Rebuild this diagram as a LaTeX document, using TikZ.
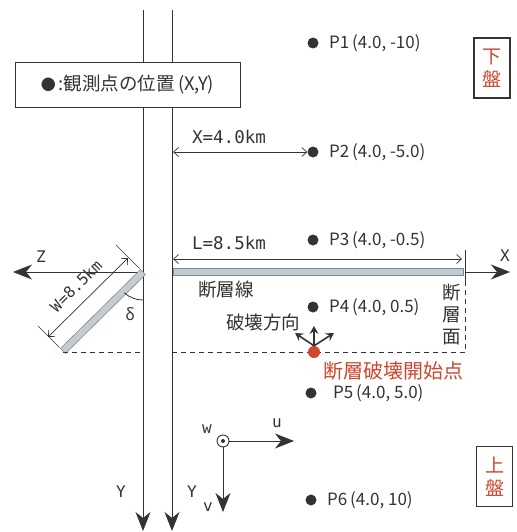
\documentclass[tikz,border=0pt]{standalone}
\usepackage{fontspec}
\setmainfont{Noto Sans CJK JP}
\newfontfamily\mono{DejaVu Sans Mono}
\usetikzlibrary{arrows.meta}
\definecolor{ink}{HTML}{333333}
\definecolor{redtxt}{HTML}{D0452E}
\definecolor{faultfill}{HTML}{C9CBCB}
\definecolor{faultedge}{HTML}{6B8FB0}
\tikzset{
  line/.style={draw=ink, line width=0.9pt},
  axisarrow/.style={line, -{Stealth[length=19pt,width=15pt,inset=6pt]}},
  dimarrow/.style={line, line width=0.7pt, {Straight Barb[length=5pt,width=9pt]}-{Straight Barb[length=5pt,width=9pt]}},
  smallarrow/.style={line, line width=1.6pt, -{Stealth[length=8pt,width=9pt,inset=3pt]}},
  dashline/.style={draw=ink, line width=0.8pt, dash pattern=on 5pt off 4pt},
  faultbar/.style={fill=faultfill, draw=faultedge, line width=0.6pt},
  dot/.style={circle, fill=ink, inner sep=0pt, minimum size=11pt},
  reddot/.style={circle, fill=redtxt, inner sep=0pt, minimum size=12pt},
  plabel/.style={text=ink, font=\fontsize{17}{19}\selectfont, anchor=west, inner sep=0pt},
  jtext/.style={text=ink, font=\fontsize{18.5}{20}\selectfont, inner sep=0pt},
  rtext/.style={text=redtxt, font=\fontsize{20}{21}\selectfont, inner sep=0pt},
  axlabel/.style={text=ink, font=\mono\fontsize{16}{18}\selectfont, inner sep=0pt},
  dimlabel/.style={text=ink, font=\mono\fontsize{17.5}{18}\selectfont, inner sep=0pt},
  sidebox/.style={draw=ink, line width=1.4pt, text=redtxt, align=center,
    font=\fontsize{19}{23}\selectfont, minimum width=36pt, minimum height=60pt, inner sep=0pt},
}
\begin{document}
\begin{tikzpicture}[x=1pt,y=-1pt]
\useasboundingbox (0,0) rectangle (516,532);
% vertical axes (Y)
\coordinate (lt) at (143,10);
\coordinate (lb) at (143,531);
\coordinate (rt) at (172,10);
\coordinate (rb) at (172,531);
\draw[axisarrow] (lt) -- (lb);
\draw[axisarrow] (rt) -- (rb);
\node[axlabel] (ly1) at (121,492) {Y};
\node[axlabel] (ly2) at (192,492) {Y};
% legend
\node[draw=ink, line width=1pt, fill=white, minimum width=225pt, minimum height=45pt,
  text=ink, font=\fontsize{18.5}{20}\selectfont, inner sep=0pt] (legend) at (127.5,85)
  {\raisebox{0.5pt}{\fontsize{15}{15}\selectfont●}\,:観測点の位置\,(X,Y)};
% observation points
\node[dot] (p1) at (313,43) {};
\node[plabel] (p1l) at (329,43) {P1\,(4.0,\ -10)};
\node[dot] (p2) at (313,152) {};
\node[plabel] (p2l) at (329,152) {P2\,(4.0,\ -5.0)};
\node[dot] (p3) at (313,240) {};
\node[plabel] (p3l) at (329,240) {P3\,(4.0,\ -0.5)};
\node[dot] (p4) at (313,307) {};
\node[plabel] (p4l) at (329,307) {P4\,(4.0,\ 0.5)};
\node[dot] (p5) at (311,393) {};
\node[plabel] (p5l) at (333,393) {P5\,(4.0,\ 5.0)};
\node[dot] (p6) at (311,500) {};
\node[plabel] (p6l) at (327,500) {P6\,(4.0,\ 10)};
% X = 4.0 km
\coordinate (xa) at (173,152);
\draw[dimarrow] (xa) -- (p2.west);
\node[dimlabel] (xlab) at (229,137) {X=4.0km};
% L = 8.5 km
\coordinate (la) at (173,259);
\coordinate (lz) at (462,259);
\draw[dimarrow] (la) -- (lz);
\node[dimlabel] (llab) at (229,243) {L=8.5km};
% fault line (map view)
\draw[faultbar] (173,268.5) rectangle (463,275.5);
\coordinate (ftop) at (465,250);
\coordinate (fmid) at (465,281);
\coordinate (fbot) at (465,352);
\draw[line, line width=0.8pt] (ftop) -- (fmid);
\draw[dashline] (fmid) -- (fbot);
% X axis
\coordinate (xo) at (465,272);
\coordinate (xe) at (510,272);
\draw[axisarrow] (xo) -- (xe);
\node[axlabel] (xl) at (505,256) {X};
% Z axis
\coordinate (zo) at (143,272);
\coordinate (ze) at (13,272);
\draw[axisarrow] (zo) -- (ze);
\node[axlabel] (zl) at (41,257) {Z};
% dipping fault (cross-section)
\coordinate (dt) at (143,272);
\coordinate (db) at (63,351);
\draw[faultbar] (145.5,274.5) -- (140.5,269.5) -- (60.5,348.5) -- (65.5,353.5) -- cycle;
% W dimension
\coordinate (wt1) at (139.5,268.5);
\coordinate (wt2) at (116,245);
\coordinate (wb1) at (59.5,347.5);
\coordinate (wb2) at (38,326);
\draw[line, line width=0.7pt] (wt1) -- (wt2);
\draw[line, line width=0.7pt] (wb1) -- (wb2);
\coordinate (wa) at (48,337);
\coordinate (wz) at (128,258);
\draw[dimarrow] (wa) -- (wz);
\node[dimlabel, rotate=45, font=\mono\fontsize{15.5}{16}\selectfont] (wl) at (76,286) {W=8.5km};
% dip angle
\draw[line, line width=0.8pt] (143,300) arc[start angle=-90, end angle=-132, radius=28pt];
\node[axlabel, font=\fontsize{16}{16}\selectfont] (delta) at (130,314) {δ};
% dashed depth line
\coordinate (d1) at (63,352);
\coordinate (d2) at (143,352);
\coordinate (d3) at (172,352);
\draw[dashline] (d1) -- (d2);
\draw[dashline] (d3) -- (fbot);
% hypocenter and rupture direction
\node[reddot] (hypo) at (314,352) {};
\coordinate (ra) at (295,333);
\coordinate (rb2) at (314,326);
\coordinate (rc) at (334,333);
\draw[smallarrow] (hypo.north) -- (ra);
\draw[smallarrow] (hypo.north) -- (rb2);
\draw[smallarrow] (hypo.north) -- (rc);
% Japanese labels
\node[jtext] (fl) at (226,290) {断層線};
\node[jtext] (rd) at (263,322) {破壊方向};
\node[rtext] (hl) at (393,371) {断層破壊開始点};
\node[jtext, align=center, font=\fontsize{18.5}{22}\selectfont] (fs) at (452,315) {断\\層\\面};
% u v w axes
\node[circle, draw=ink, line width=0.9pt, minimum size=12pt, inner sep=0pt] (orig) at (223,441) {};
\node[circle, fill=ink, minimum size=4pt, inner sep=0pt] (origdot) at (223,441) {};
\coordinate (ue) at (294,441);
\coordinate (ve) at (223,512);
\draw[axisarrow] (orig.east) -- (ue);
\draw[axisarrow] (orig.south) -- (ve);
\node[axlabel] (wlab) at (207,429) {w};
\node[axlabel] (ulab) at (277,423) {u};
\node[axlabel] (vlab) at (208,507) {v};
% hanging / foot wall boxes
\node[sidebox] (foot) at (492,68) {下\\盤};
\node[sidebox] (hang) at (494.5,476.5) {上\\盤};
\end{tikzpicture}
\end{document}
